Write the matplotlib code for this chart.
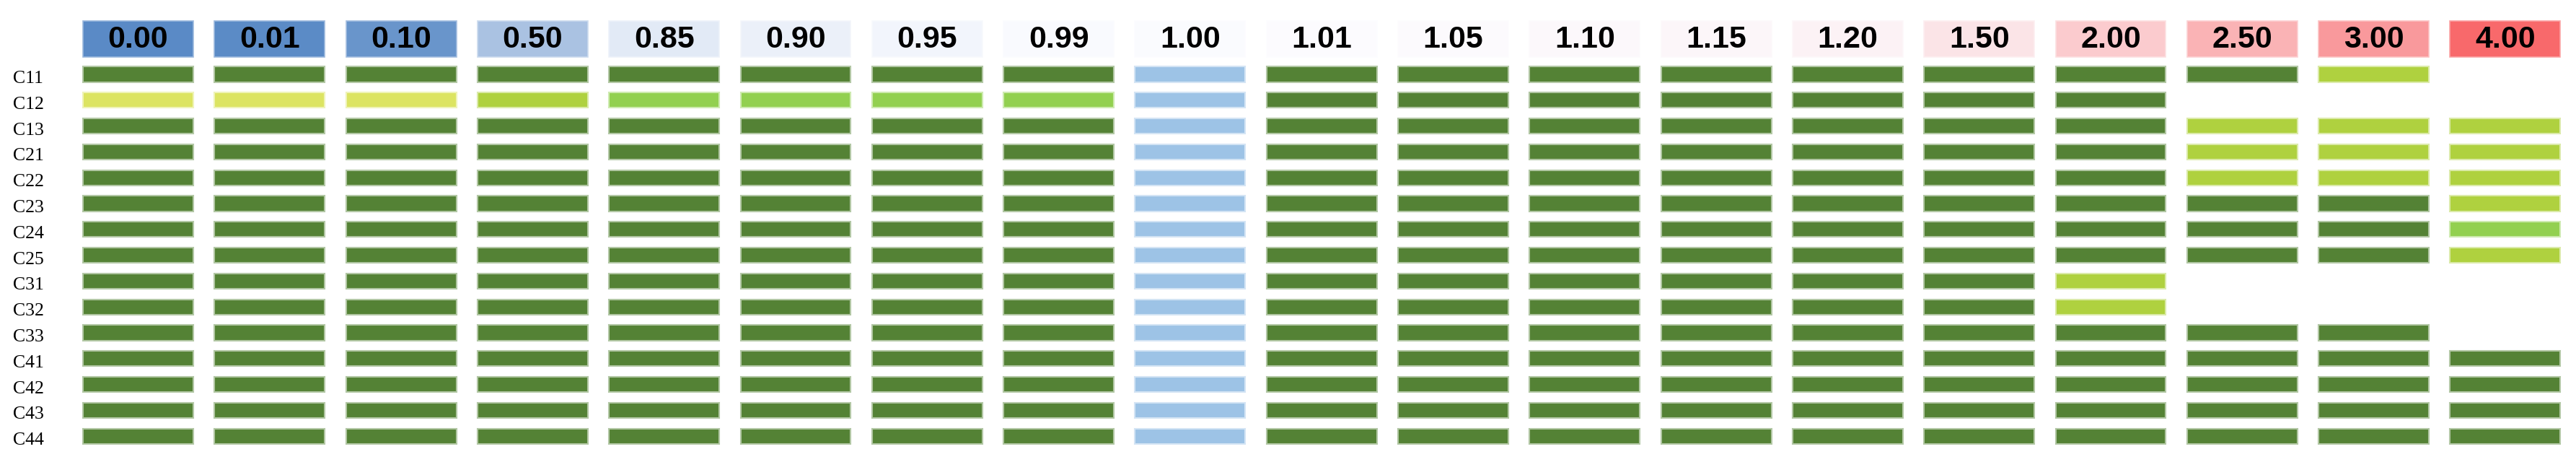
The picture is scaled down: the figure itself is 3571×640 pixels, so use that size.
import numpy as np
import matplotlib
matplotlib.use("Agg")
import matplotlib.pyplot as plt
from matplotlib.colors import LinearSegmentedColormap, TwoSlopeNorm, to_rgb

#Datos
factores = [0.00, 0.01, 0.10, 0.50, 0.85, 0.90, 0.95, 0.99, 1.00, 1.01,
            1.05, 1.10, 1.15, 1.20, 1.50, 2.00, 2.50, 3.00, 4.00]
filas = ["C11", "C12", "C13", "C21", "C22", "C23", "C24", "C25",
         "C31", "C32", "C33", "C41", "C42", "C43", "C44"]
# G verde oscuro, Y verde amarillo, P amarillo claro, L verde claro, B azul, . vacio
estados = [
    "GGGGGGGGBGGGGGGGGY.",
    "PPPYLLLLBGGGGGGG...",
    "GGGGGGGGBGGGGGGGYYY",
    "GGGGGGGGBGGGGGGGYYY",
    "GGGGGGGGBGGGGGGGYYY",
    "GGGGGGGGBGGGGGGGGGY",
    "GGGGGGGGBGGGGGGGGGL",
    "GGGGGGGGBGGGGGGGGGY",
    "GGGGGGGGBGGGGGGY...",
    "GGGGGGGGBGGGGGGY...",
    "GGGGGGGGBGGGGGGGGG.",
    "GGGGGGGGBGGGGGGGGGG",
    "GGGGGGGGBGGGGGGGGGG",
    "GGGGGGGGBGGGGGGGGGG",
    "GGGGGGGGBGGGGGGGGGG",
]

colores = {"G": "#548235", "Y": "#afd13f", "P": "#dce462",
           "L": "#92d050", "B": "#9dc3e6"}

#Escala azul-blanco-rojo (como Excel), punto medio en la mediana
cmap = LinearSegmentedColormap.from_list("bwr_xl", ["#5a8ac6", "#fcfcff", "#f8696b"])
norm = TwoSlopeNorm(vmin=min(factores), vcenter=float(np.median(factores)), vmax=max(factores))


def borde(c, f=0.55):
    r, g, b = to_rgb(c)
    return (r + (1 - r) * f, g + (1 - g) * f, b + (1 - b) * f)


fig = plt.figure(figsize=(35.71, 6.4), dpi=100)
ax = fig.add_axes([0, 0, 1, 1])
ax.set_xlim(-1.0505, 18.538)
ax.set_ylim(15.0, -2.877)
ax.axis("off")

ancho = 0.839
alto = 0.587
y_cab = -1.369
alto_cab = 1.397

#Cabecera
for j, v in enumerate(factores):
    c = cmap(norm(v))
    ax.barh(y_cab, ancho, left=j - ancho / 2, height=alto_cab, color=c,
            edgecolor=borde(c, 0.4), linewidth=1.2)
    ax.text(j, y_cab + 0.02, f"{v:.2f}", ha="center", va="center",
            fontsize=31, fontweight="bold", family="Liberation Sans", color="black")

#Barras por columna
for j in range(len(factores)):
    ys, cs = [], []
    for i, fila in enumerate(estados):
        k = fila[j]
        if k != ".":
            ys.append(i)
            cs.append(colores[k])
    ax.barh(ys, ancho, left=j - ancho / 2, height=alto, color=cs,
            edgecolor=[borde(c) for c in cs], linewidth=1.5)

#Etiquetas de fila
for i, nombre in enumerate(filas):
    ax.text(-0.952, i + 0.17, nombre, ha="left", va="center",
            fontsize=18.5, family="Liberation Serif", color="black")

fig.savefig("out.png", dpi=100, facecolor="white")
